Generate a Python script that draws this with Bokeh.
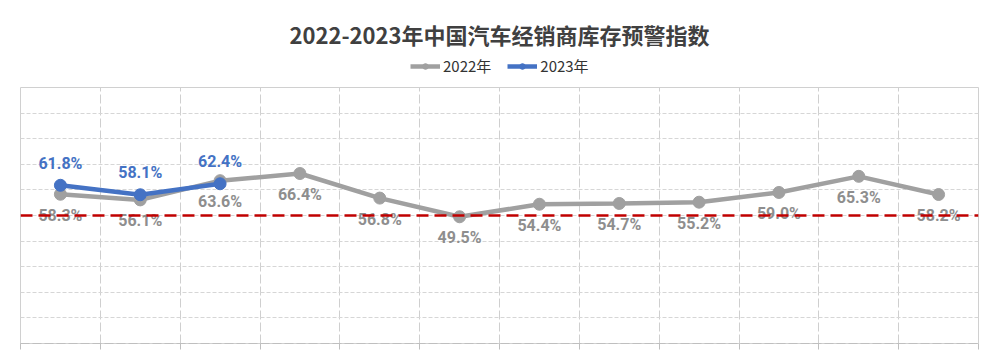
from bokeh.plotting import figure
from bokeh.layouts import column
from bokeh.models import (ColumnDataSource, Span, Legend, LegendItem, Label,
                          FixedTicker, Range1d)
from bokeh.core.properties import value
from bokeh.embed import file_html
from bokeh.resources import INLINE

# ---- data ----
months = ["1月", "2月", "3月", "4月", "5月", "6月", "7月", "8月", "9月", "10月", "11月", "12月"]
v2022 = [58.3, 56.1, 63.6, 66.4, 56.8, 49.5, 54.4, 54.7, 55.2, 59.0, 65.3, 58.2]
v2023 = [61.8, 58.1, 62.4]
warning_line = 50
title_text = "2022-2023年中国汽车经销商库存预警指数"
series_names = ["2022年", "2023年"]

GREY = "#a0a0a0"
BLUE = "#4472C4"
LABEL_FONT = value("Roboto")
W = 997
HEAD_H = 86
MAIN_H = 271
NAN = float("nan")

# ---------- header: title + legend ----------
head = figure(width=W, height=HEAD_H, output_backend="svg", toolbar_location=None,
              x_range=Range1d(0, W), y_range=Range1d(0, HEAD_H),
              min_border=0, min_border_left=0, min_border_right=0,
              min_border_top=0, min_border_bottom=0)
head.axis.visible = False
head.grid.visible = False
head.outline_line_color = None
head.background_fill_color = "white"
head.border_fill_color = "white"

# legend-only renderers (no visible data)
def dummy():
    return ColumnDataSource(dict(x=[NAN], y=[NAN]))

hl22 = head.line("x", "y", source=dummy(), line_color=GREY, line_width=4.5)
hc22 = head.scatter("x", "y", source=dummy(), size=11, fill_color=GREY, line_color=GREY)
hl23 = head.line("x", "y", source=dummy(), line_color=BLUE, line_width=4.5)
hc23 = head.scatter("x", "y", source=dummy(), size=9, fill_color=BLUE, line_color=BLUE)

legend = Legend(items=[LegendItem(label=series_names[0], renderers=[hl22, hc22]),
                       LegendItem(label=series_names[1], renderers=[hl23, hc23])],
                orientation="horizontal", location=(390, 10),
                label_text_font="Noto Sans CJK SC", label_text_font_size="15px",
                label_text_color="#333333", glyph_width=30, glyph_height=14,
                label_standoff=3, spacing=16, padding=0, margin=0,
                border_line_color=None, background_fill_alpha=0)
head.add_layout(legend, "center")

head.add_layout(Label(x=W / 2, y=HEAD_H - 33, text=title_text, text_align="center",
                      text_baseline="middle", text_font="Noto Sans CJK SC",
                      text_font_style="bold", text_font_size="22px", text_color="#404040"))

# ---------- main chart ----------
x22 = [i + 0.5 for i in range(len(v2022))]
x23 = [i + 0.5 for i in range(len(v2023))]
src22 = ColumnDataSource(dict(x=x22, y=v2022, lbl=[f"{v:.1f}%" for v in v2022]))
src23 = ColumnDataSource(dict(x=x23, y=v2023, lbl=[f"{v:.1f}%" for v in v2023]))

p = figure(width=W, height=MAIN_H, output_backend="svg", toolbar_location=None,
           x_range=Range1d(0, len(months)), y_range=Range1d(0, 100),
           min_border_left=20, min_border_right=19, min_border_top=1,
           min_border_bottom=14)
p.background_fill_color = "white"
p.border_fill_color = "white"
p.outline_line_color = "#d0d0d0"
p.outline_line_width = 1

p.xgrid.ticker = FixedTicker(ticks=list(range(len(months) + 1)))
p.xgrid.grid_line_color = "#cfcfcf"
p.xgrid.grid_line_dash = "9 3"
p.xgrid.grid_line_width = 1
p.ygrid.ticker = FixedTicker(ticks=list(range(0, 101, 10)))
p.ygrid.grid_line_color = "#d6d6d6"
p.ygrid.grid_line_dash = "4 2"
p.ygrid.grid_line_width = 1

p.yaxis.visible = False
p.xaxis.ticker = FixedTicker(ticks=list(range(len(months) + 1)))
p.xaxis.major_label_text_font_size = "0px"
p.xaxis.major_label_text_color = None
p.xaxis.major_label_standoff = 0
p.xaxis.axis_line_color = "#bfbfbf"
p.xaxis.axis_line_dash = "9 3"
p.xaxis.major_tick_line_color = "#bfbfbf"
p.xaxis.major_tick_out = 6
p.xaxis.major_tick_in = 0
p.xaxis.minor_tick_line_color = None

p.add_layout(Span(location=warning_line, dimension="width", line_color="#c00000",
                  line_width=2.5, line_dash="12 6"))

p.line("x", "y", source=src22, line_color=GREY, line_width=4.5)
p.scatter("x", "y", source=src22, size=12, fill_color=GREY, line_color=GREY)
p.line("x", "y", source=src23, line_color=BLUE, line_width=4.5)
p.scatter("x", "y", source=src23, size=12, fill_color=BLUE, line_color=BLUE)

p.text("x", "y", text="lbl", source=src22, text_font=LABEL_FONT, text_font_style="bold",
       text_font_size="16px", text_color="#8e8e8e", text_align="center",
       text_baseline="middle", y_offset=21)
p.text("x", "y", text="lbl", source=src23, text_font=LABEL_FONT, text_font_style="bold",
       text_font_size="16px", text_color=BLUE, text_align="center",
       text_baseline="middle", y_offset=-22)

layout = column(head, p, spacing=0)
open("out.html", "w").write(file_html(layout, INLINE))
